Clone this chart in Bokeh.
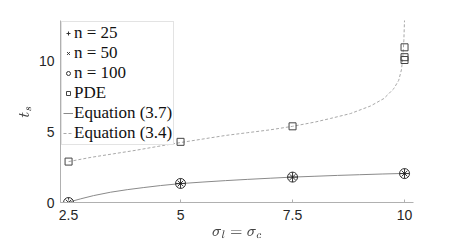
from bokeh.plotting import figure
from bokeh.models import Legend, LegendItem, Range1d, FixedTicker, TeX
from bokeh.embed import file_html
from bokeh.resources import INLINE

# --- data ---
sigma = [2.5, 5, 7.5, 10]
n25 = [0.0, 1.35, 1.80, 2.05]
n50 = [0.0, 1.35, 1.80, 2.05]
n100 = [0.0, 1.35, 1.80, 2.05]
pde_x = [2.5, 5, 7.5, 10, 10, 10]
pde_y = [2.9, 4.3, 5.4, 10.1, 10.3, 11.0]

eq37_x = [2.5, 2.6, 2.77, 3.06, 3.44, 3.81, 4.18, 4.55, 5.0, 5.5, 6.0, 6.5, 7.0, 7.5, 8.0, 8.5, 9.0, 9.5, 10.0]
eq37_y = [0.0, 0.11, 0.26, 0.49, 0.73, 0.91, 1.06, 1.20, 1.34, 1.45, 1.55, 1.64, 1.72, 1.80, 1.86, 1.92, 1.97, 2.02, 2.06]

eq34_x = [2.5, 3.0, 3.5, 4.0, 4.5, 5.0, 5.5, 6.0, 6.5, 7.0, 7.5, 8.0, 8.35, 8.79, 9.24, 9.54, 9.76, 9.87, 9.93, 9.96, 9.985, 10.0]
eq34_y = [2.9, 3.2, 3.45, 3.7, 3.98, 4.25, 4.5, 4.75, 4.95, 5.15, 5.4, 5.7, 5.96, 6.3, 6.84, 7.37, 8.07, 8.66, 9.4, 10.2, 11.5, 13.0]

x_ticks = [2.5, 5, 7.5, 10]
y_ticks = [0, 5, 10]

p = figure(width=449, height=244, output_backend="svg", toolbar_location=None,
           x_range=Range1d(2.32, 10.2), y_range=Range1d(0, 12.9),
           min_border_left=60, min_border_right=36, min_border_top=20, min_border_bottom=41)
p.outline_line_color = None
p.xgrid.visible = False
p.ygrid.visible = False

for ax in (p.xaxis[0], p.yaxis[0]):
    ax.axis_line_color = "#b0b0b0"
    ax.major_tick_line_color = "#b0b0b0"
    ax.major_tick_in = 3
    ax.major_tick_out = 0
    ax.minor_tick_line_color = None
    ax.major_label_text_font = "Liberation Sans"
    ax.major_label_text_font_size = "14px"
    ax.major_label_text_color = "#262626"
    ax.axis_label_text_font_style = "normal"
p.xaxis.ticker = FixedTicker(ticks=x_ticks)
p.yaxis.ticker = FixedTicker(ticks=y_ticks)
p.xaxis.major_label_overrides = {2.5: "2.5", 5: "5", 7.5: "7.5", 10: "10"}
p.xaxis.major_label_standoff = 7
p.yaxis.major_label_standoff = 6
p.xaxis.axis_label = TeX(r"\sigma_l = \sigma_c")
p.yaxis.axis_label = TeX(r"t_s")
p.xaxis.axis_label_standoff = 4
p.yaxis.axis_label_standoff = 2

r37 = p.line(eq37_x, eq37_y, line_color="#8a8a8a", line_width=1)
r34 = p.line(eq34_x, eq34_y, line_color="#a8a8a8", line_width=1, line_dash="3 2")

rp = p.scatter(pde_x, pde_y, marker="square", size=7, fill_color=None, line_color="#444444", line_width=1)
r1 = p.scatter(sigma, n25, marker="cross", size=10, line_color="#333333", line_width=1)
r2 = p.scatter(sigma, n50, marker="x", size=8, line_color="#333333", line_width=1)
r3 = p.scatter(sigma, n100, marker="circle", size=10, fill_color=None, line_color="#333333", line_width=1)
p.scatter(sigma, n25, marker="dot", size=5, line_color="#111111")

legend = Legend(items=[
    LegendItem(label="n = 25", renderers=[r1]),
    LegendItem(label="n = 50", renderers=[r2]),
    LegendItem(label="n = 100", renderers=[r3]),
    LegendItem(label="PDE", renderers=[rp]),
    LegendItem(label="Equation (3.7)", renderers=[r37]),
    LegendItem(label="Equation (3.4)", renderers=[r34]),
], location="top_left")
legend.label_text_font = "Liberation Serif"
legend.label_text_font_size = "17px"
legend.label_text_color = "#111111"
legend.glyph_width = 10
legend.glyph_height = 16
legend.label_standoff = 1
legend.spacing = 0
legend.label_height = 19
legend.padding = 1
legend.margin = 1
legend.border_line_color = "#c8c8c8"
legend.background_fill_alpha = 1
p.add_layout(legend)

open("out.html", "w").write(file_html(p, INLINE))
